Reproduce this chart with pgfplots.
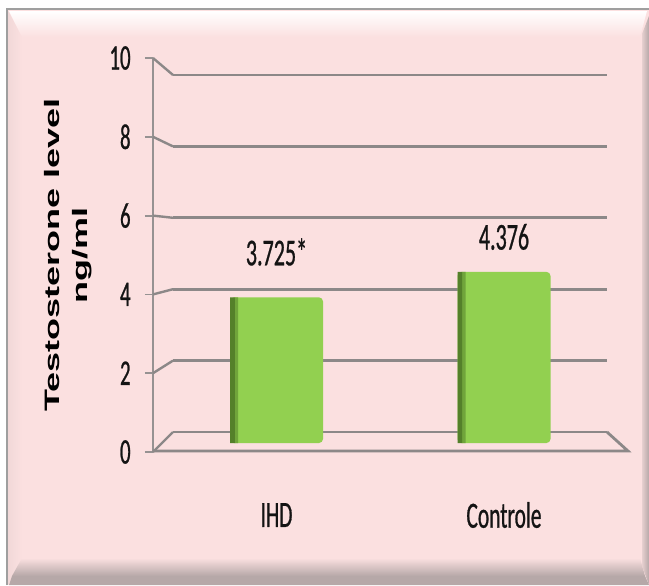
\documentclass[border=0pt]{standalone}
\usepackage{pgfplots}
\pgfplotsset{compat=1.18}
\usepackage{pgfplotstable}
\usepackage{fontspec}
\setmainfont{Carlito}
\newfontfamily\narrowfont[FakeStretch=0.58,FakeBold=0.7]{Carlito}
\newfontfamily\ylabfont{Liberation Sans}

\definecolor{bgpink}{RGB}{251,224,224}
\definecolor{gridgray}{RGB}{140,136,136}
\definecolor{axisgray}{RGB}{150,146,146}
\definecolor{barGreen}{HTML}{92D050}
\definecolor{barDark}{RGB}{84,128,42}
\definecolor{bevelDark}{RGB}{182,168,168}
\definecolor{txt}{RGB}{20,20,20}

\pgfplotstableread{
x y label dy
0 3.725 3.725* 22.7
1 4.376 4.376 17.5
}\datatable

\begin{document}
\begin{tikzpicture}[x=0.5pt,y=-0.5pt]
% ---- frame / background ----
\fill[white] (0,0) rectangle (649,585);
\fill[bgpink] (7,9) rectangle (649,585);
\shade[left color=bgpink!92!gray, right color=bgpink] (8,11) -- (22,36) -- (22,560) -- (8,585) -- cycle;
\shade[top color=white, bottom color=bgpink] (9,11) -- (647,11) -- (640,37) -- (22,37) -- cycle;
\shade[top color=bgpink, bottom color=bevelDark] (22,558) -- (640,558) -- (645,576) -- (12,576) -- cycle;
\fill[bevelDark] (12,576) -- (645,576) -- (649,585) -- (9,585) -- cycle;
\shade[left color=bgpink!70!bevelDark, right color=bevelDark] (642,34) -- (649,16) -- (649,585) -- (642,566) -- cycle;
\draw[gray!75, line width=1pt] (7,585) -- (7,9) -- (649,9);

% ---- back wall gridlines ----
\begin{axis}[at={(86.5pt,-216pt)}, anchor=south west, scale only axis,
  width=217pt, height=178.5pt,
  xmin=-0.454945, xmax=1.452747, ymin=0, ymax=10,
  ytick={0,2,...,10}, xtick=\empty, yticklabels={},
  ymajorgrids, grid style={gridgray, line width=1.4pt},
  axis line style={draw=none}, major tick length=0pt, clip=false]
\end{axis}

% ---- bars ----
\begin{axis}[at={(86.5pt,-221.5pt)}, anchor=south west, scale only axis,
  width=217pt, height=195.5pt,
  xmin=-0.454945, xmax=1.452747, ymin=0, ymax=10,
  axis line style={draw=none}, major tick length=0pt, tick style={draw=none},
  ytick=\empty, xtick=data, xticklabels={IHD,Controle},
  xticklabel style={font=\narrowfont\fontsize{18.5}{20}\selectfont, text=txt, anchor=center, yshift=-36pt},
  clip=false]
\addplot[ybar, bar width=46.5pt, bar shift=0pt, fill=barGreen, draw=none, rounded corners=2pt,
  point meta=explicit symbolic, nodes near coords,
  visualization depends on={\thisrow{dy} \as \labdy},
  every node near coord/.append style={font=\narrowfont\fontsize{19}{21}\selectfont, text=txt, anchor=center, yshift=\labdy pt}]
  table[x=x, y=y, meta=label]{\datatable};
\addplot[ybar, bar width=2.5pt, bar shift=-22pt, fill=barDark, draw=none]
  table[x=x, y=y]{\datatable};
\addplot[ybar, bar width=1.5pt, bar shift=-20pt, fill=barDark!55!barGreen, draw=none]
  table[x=x, y=y]{\datatable};
\end{axis}

% ---- front: y axis, ticks, label ----
\begin{axis}[at={(76.5pt,-226pt)}, anchor=south west, scale only axis,
  width=237pt, height=197pt,
  xmin=0, xmax=1, ymin=0, ymax=10,
  axis line style={draw=none}, xtick=\empty,
  ytick={0,2,...,10}, ytick pos=left, tick align=outside, major tick length=4pt,
  tick style={axisgray, line width=0.9pt},
  /pgf/number format/assume math mode=true,
  yticklabel style={font=\narrowfont\fontsize{18}{20}\selectfont, text=txt, anchor=east, inner sep=0pt, xshift=-7pt},
  ylabel={\scalebox{1}[0.58]{\begin{tabular}{@{}c@{}}Testosterone level\\ ng/ml\end{tabular}}},
  ylabel style={font=\ylabfont\bfseries\fontsize{18}{24}\selectfont, at={(axis description cs:-0.18,0.5)}, anchor=center},
  clip=false]
\draw[axisgray, line width=0.9pt] (axis cs:0,0) -- (axis cs:0,10);
\end{axis}

% ---- 3D connectors and floor ----
\foreach \v in {0,1,2,3,4,5}{
  \draw[gridgray, line width=1.2pt] (153,{452-78.8*\v}) -- (173,{432-71.4*\v});
}
\draw[gridgray, line width=1.4pt] (153,451) -- (628,451) -- (607,432);

\pgfresetboundingbox
\path[use as bounding box] (0,0) rectangle (649,585);
\end{tikzpicture}
\end{document}
